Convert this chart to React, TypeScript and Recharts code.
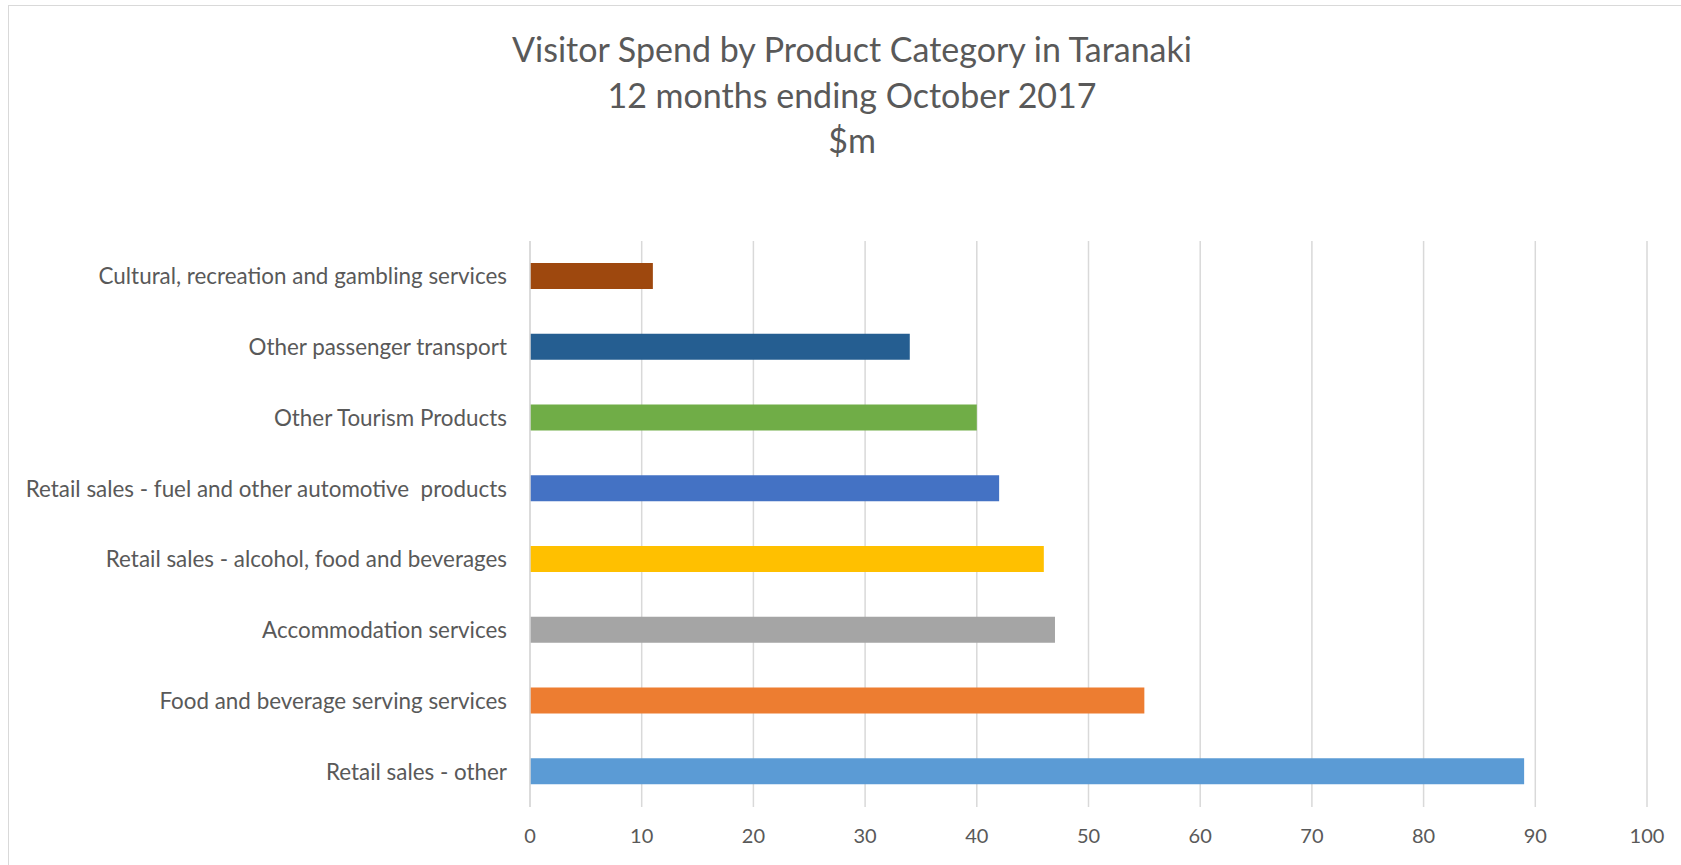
import { BarChart, Bar, XAxis, YAxis, CartesianGrid, Cell } from "recharts"

// top to bottom, as drawn
const categories = [
  "Cultural, recreation and gambling services",
  "Other passenger transport",
  "Other Tourism Products",
  "Retail sales - fuel and other automotive\u00A0 products",
  "Retail sales - alcohol, food and beverages",
  "Accommodation services",
  "Food and beverage serving services",
  "Retail sales - other",
]
const spend = [11, 34, 40, 42, 46, 47, 55, 89]
const barColors = ["#9E480E", "#255E91", "#70AD47", "#4472C4", "#FFC000", "#A5A5A5", "#ED7D31", "#5B9BD5"]
const xTicks = [0, 10, 20, 30, 40, 50, 60, 70, 80, 90, 100]
const titleLines = ["Visitor Spend by Product Category in Taranaki", "12 months ending October 2017", "$m"]

const rows = categories.map((name, i) => ({ name, value: spend[i] }))

const FONT = "Lato, 'Open Sans', sans-serif"
const TEXT = "#595959"

export default function App() {
  return (
    <div style={{ position: "absolute", left: 0, top: 0, width: 1681, height: 865, background: "#fff", overflow: "hidden" }}>
      {/* chart area border, right/bottom edges run off the page */}
      <div
        style={{
          position: "absolute",
          left: 8,
          top: 5,
          width: 1700,
          height: 900,
          border: "1.5px solid #D9D9D9",
          boxSizing: "border-box",
        }}
      />
      <div
        style={{
          position: "absolute",
          left: 852 - 500,
          top: 26,
          width: 1000,
          textAlign: "center",
          fontFamily: FONT,
          fontSize: 34,
          lineHeight: "45.5px",
          color: TEXT,
        }}
      >
        {titleLines.map((t) => (
          <div key={t}>{t}</div>
        ))}
      </div>
      <div style={{ position: "absolute", left: 0, top: 0 }}>
        <BarChart
          width={1681}
          height={865}
          data={rows}
          layout="vertical"
          margin={{ top: 241, right: 34, bottom: 28, left: 0 }}
          barSize={26}
        >
          <CartesianGrid horizontal={false} stroke="#D9D9D9" strokeWidth={1.5} />
          <XAxis
            type="number"
            domain={[0, 100]}
            ticks={xTicks}
            interval={0}
            axisLine={false}
            tickLine={false}
            tickSize={8}
            tickMargin={14}
            height={30}
            tick={{ fill: TEXT, fontSize: 20, fontFamily: FONT }}
          />
          <YAxis
            type="category"
            dataKey="name"
            width={530}
            interval={0}
            axisLine={{ stroke: "#D9D9D9", strokeWidth: 1.5 }}
            tickLine={false}
            tickSize={8}
            tickMargin={15}
            tick={{ fill: TEXT, fontSize: 22.4, fontFamily: FONT }}
          />
          <Bar dataKey="value" isAnimationActive={false}>
            {rows.map((r, i) => (
              <Cell key={r.name} fill={barColors[i]} />
            ))}
          </Bar>
        </BarChart>
      </div>
    </div>
  )
}
